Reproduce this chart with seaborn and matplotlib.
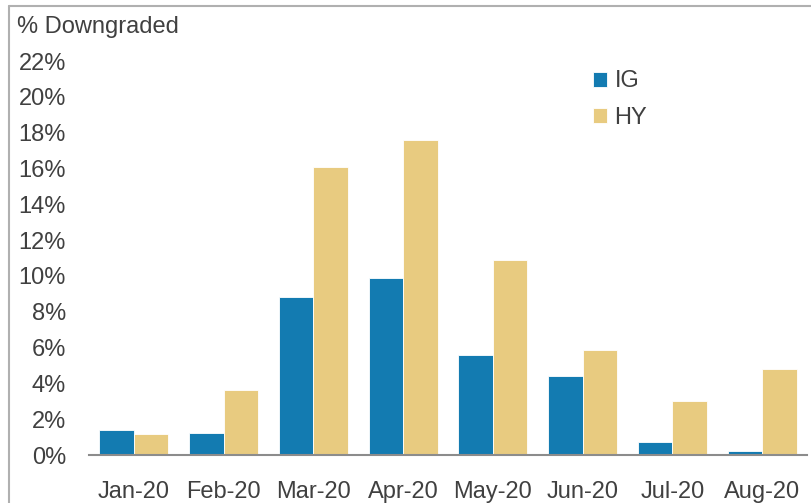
import numpy as np
import pandas as pd
import seaborn as sns
import matplotlib.pyplot as plt
from matplotlib.lines import Line2D
from matplotlib.ticker import FuncFormatter, FixedLocator

months = ["Jan-20", "Feb-20", "Mar-20", "Apr-20", "May-20", "Jun-20", "Jul-20", "Aug-20"]
ig = [1.40, 1.25, 8.8, 9.9, 5.6, 4.4, 0.7, 0.2]
hy = [1.15, 3.65, 16.1, 17.6, 10.9, 5.85, 3.0, 4.8]
series = ["IG", "HY"]

df = pd.DataFrame({
    "month": months * 2,
    "value": ig + hy,
    "series": [series[0]] * len(months) + [series[1]] * len(months),
})

sns.set_theme(style="white")
plt.rcParams["font.family"] = ["Liberation Sans", "DejaVu Sans"]
txt = "#404040"
fs = 17

fig = plt.figure(figsize=(8.12, 5.03), dpi=100)
ax = fig.add_axes([89 / 812, 1 - 455 / 503, (807 - 89) / 812, (455 - 61) / 503])

sns.barplot(
    data=df, x="month", y="value", hue="series", order=months, hue_order=series,
    palette=["#137BB1", "#E8CB80"], width=0.77, gap=0, saturation=1,
    edgecolor="white", linewidth=0.6, ax=ax,
)

ax.set_ylim(0, 22)
ax.set_xlim(-0.5, len(months) - 0.5)
ax.set_yticks(np.arange(0, 23, 2))
ax.yaxis.set_major_formatter(FuncFormatter(lambda v, p: f"{v:.0f}%"))
ax.tick_params(axis="y", length=0, labelsize=fs, labelcolor=txt, pad=16.5)
ax.tick_params(axis="x", which="major", length=0, labelsize=fs, labelcolor=txt, pad=19)
ax.xaxis.set_minor_locator(FixedLocator(np.arange(-0.5, len(months), 1)))
ax.tick_params(axis="x", which="minor", length=7, width=1.5, color="#8c8c8c", direction="out")
ax.set_xlabel("")
ax.set_ylabel("")
for s in ("top", "right", "left"):
    ax.spines[s].set_visible(False)
ax.spines["bottom"].set_color("#8c8c8c")
ax.spines["bottom"].set_linewidth(1.5)

fig.text(17 / 812, 1 - 27 / 503, "% Downgraded", fontsize=fs, color=txt, va="center", ha="left")

ax.legend(
    loc="upper left", bbox_to_anchor=(0.689, 1.0), frameon=False, fontsize=fs,
    handlelength=0.6, handleheight=0.6, handletextpad=0.3, labelspacing=0.6,
    labelcolor=txt, borderaxespad=0,
)

fig.add_artist(Line2D([9 / 812, 9 / 812], [0, 1 - 6 / 503], color="#b0b0b0", lw=1.5))
fig.add_artist(Line2D([9 / 812, 1], [1 - 6 / 503, 1 - 6 / 503], color="#b0b0b0", lw=1.5))

fig.savefig("out.png", dpi=100)
